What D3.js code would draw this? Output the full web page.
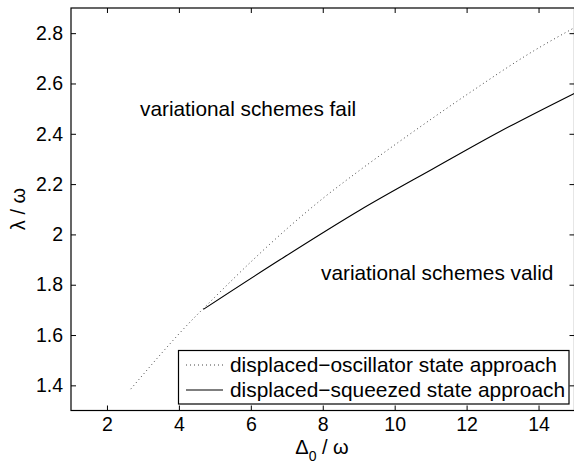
<!DOCTYPE html>
<html><head><meta charset="utf-8">
<script src="https://cdn.jsdelivr.net/npm/d3@7"></script>
<style>body{margin:0;background:#fff}svg{display:block}text{font-family:"Liberation Sans",Arial,sans-serif;fill:#000}</style>
</head><body><svg id="c" width="574" height="466"></svg>
<script>
const xTicks = [2,4,6,8,10,12,14];
const yTicks = [1.4,1.6,1.8,2,2.2,2.4,2.6,2.8];
const yTickLabels = ["1.4","1.6","1.8","2","2.2","2.4","2.6","2.8"];
const dispOscX = [2.66,4.36,4.96,6.07,7.0,8.02,9.0,10.16,12.01,13.87,15.0];
const dispOscY = [1.385,1.659,1.745,1.900,2.022,2.145,2.252,2.372,2.556,2.730,2.822];
const dispSqzX = [4.68,6.82,9.04,11.08,12.94,15.0];
const dispSqzY = [1.702,1.900,2.097,2.262,2.410,2.561];
const seriesNames = ["displaced\u2212oscillator state approach","displaced\u2212squeezed state approach"];

const svg = d3.select("#c");
const L=71, R=574.5, T=8, B=410.5;
const x = d3.scaleLinear().domain([1,15]).range([L,R]);
const y = d3.scaleLinear().domain([1.3,2.9]).range([B,T]);

const g = svg.append("g");
g.append("rect").attr("x",L).attr("y",T).attr("width",R-L).attr("height",B-T)
 .attr("fill","none").attr("stroke","#000").attr("stroke-width",1.2);

g.append("g").attr("transform",`translate(0,${B})`)
  .call(d3.axisBottom(x).tickValues(xTicks).tickSizeInner(-5).tickSizeOuter(0).tickPadding(7));
g.append("g").attr("transform",`translate(${L},0)`)
  .call(d3.axisLeft(y).tickValues(yTicks).tickFormat((d,i)=>yTickLabels[i]).tickSizeInner(-5).tickSizeOuter(0).tickPadding(8));
g.append("g").attr("transform",`translate(0,${T})`)
  .call(d3.axisTop(x).tickValues(xTicks).tickSizeInner(-5).tickSizeOuter(0).tickFormat(""));
g.append("g").attr("transform",`translate(${R},0)`)
  .call(d3.axisRight(y).tickValues(yTicks).tickSizeInner(-5).tickSizeOuter(0).tickFormat(""));
svg.selectAll(".domain").remove();
svg.selectAll(".tick line").attr("stroke","#000").attr("stroke-width",1);
svg.selectAll(".tick text").attr("font-size",19.5).attr("font-family","Liberation Sans, Arial, sans-serif").attr("fill","#000");

const line = d3.line().x(d=>x(d[0])).y(d=>y(d[1])).curve(d3.curveMonotoneX);
g.append("path").datum(dispOscX.map((v,i)=>[v,dispOscY[i]]))
  .attr("d",line).attr("fill","none").attr("stroke","#444").attr("stroke-width",1).attr("stroke-dasharray","1,3");
g.append("path").datum(dispSqzX.map((v,i)=>[v,dispSqzY[i]]))
  .attr("d",line).attr("fill","none").attr("stroke","#000").attr("stroke-width",1.1);

g.append("text").attr("x",140).attr("y",116).attr("font-size",20.8).text("variational schemes fail");
g.append("text").attr("x",321).attr("y",280).attr("font-size",20.8).text("variational schemes valid");

const lg = g.append("g");
lg.append("rect").attr("x",178.5).attr("y",350.5).attr("width",390.5).attr("height",53.5)
  .attr("fill","#fff").attr("stroke","#000").attr("stroke-width",1.2);
const rows=[365,390];
lg.append("line").attr("x1",186).attr("x2",223).attr("y1",rows[0]).attr("y2",rows[0])
  .attr("stroke","#444").attr("stroke-dasharray","1,3");
lg.append("line").attr("x1",186).attr("x2",223).attr("y1",rows[1]).attr("y2",rows[1])
  .attr("stroke","#000").attr("stroke-width",1.1);
seriesNames.forEach((s,i)=>{
  lg.append("text").attr("x",230).attr("y",rows[i]+7).attr("font-size",20.9).text(s);
});

const xl = svg.append("text").attr("x",322).attr("y",454).attr("text-anchor","middle").attr("font-size",20);
xl.append("tspan").text("\u0394");
xl.append("tspan").attr("font-size",14).attr("dy",7).text("0");
xl.append("tspan").attr("dy",-7).text(" / \u03c9");
svg.append("text").attr("transform","translate(25,209) rotate(-90)").attr("text-anchor","middle")
  .attr("font-size",20).text("\u03bb / \u03c9");
</script></body></html>
